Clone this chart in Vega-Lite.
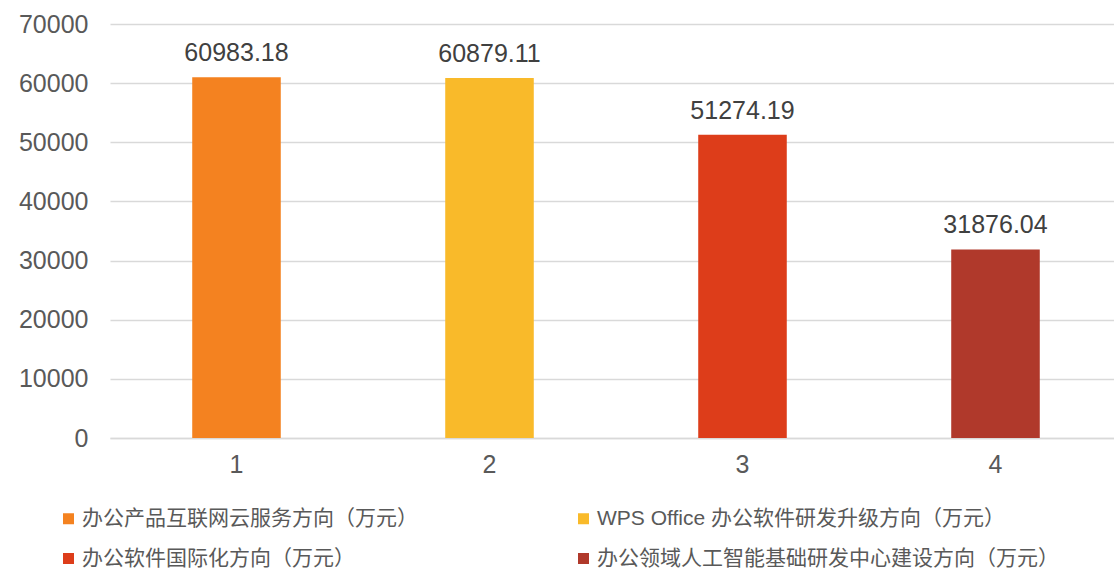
{
  "$schema": "https://vega.github.io/schema/vega-lite/v6.json",
  "width": 1012,
  "height": 414,
  "autosize": {"type": "none"},
  "padding": {"left": 110, "top": 24, "right": 0, "bottom": 133},
  "background": "white",
  "config": {
    "view": {"stroke": null},
    "font": "Liberation Sans, Noto Sans CJK SC"
  },
  "data": {
    "values": [
      {"cat": "1", "series": "办公产品互联网云服务方向（万元）", "value": 60983.18},
      {"cat": "2", "series": "WPS Office 办公软件研发升级方向（万元）", "value": 60879.11},
      {"cat": "3", "series": "办公软件国际化方向（万元）", "value": 51274.19},
      {"cat": "4", "series": "办公领域人工智能基础研发中心建设方向（万元）", "value": 31876.04}
    ]
  },
  "encoding": {
    "x": {
      "field": "cat",
      "type": "nominal",
      "scale": {"paddingInner": 0.65, "paddingOuter": 0.325},
      "axis": {
        "title": null,
        "labelAngle": 0,
        "labelFontSize": 25,
        "labelColor": "#595959",
        "labelPadding": 14,
        "ticks": false,
        "domainColor": "#d9d9d9",
        "domainWidth": 1.5
      }
    },
    "y": {
      "field": "value",
      "type": "quantitative",
      "scale": {"domain": [0, 70000]},
      "axis": {
        "title": null,
        "values": [0, 10000, 20000, 30000, 40000, 50000, 60000, 70000],
        "format": "d",
        "labelFontSize": 25,
        "labelColor": "#595959",
        "labelPadding": 22,
        "ticks": false,
        "domain": false,
        "gridColor": "#d9d9d9",
        "gridWidth": 1.5
      }
    }
  },
  "layer": [
    {
      "mark": {"type": "bar"},
      "encoding": {
        "color": {
          "field": "series",
          "type": "nominal",
          "scale": {
            "domain": [
              "办公产品互联网云服务方向（万元）",
              "WPS Office 办公软件研发升级方向（万元）",
              "办公软件国际化方向（万元）",
              "办公领域人工智能基础研发中心建设方向（万元）"
            ],
            "range": ["#F48220", "#F9BA2A", "#DD3D1A", "#B0392B"]
          },
          "legend": {
            "title": null,
            "orient": "none",
            "legendX": -52,
            "legendY": 484,
            "direction": "horizontal",
            "columns": 2,
            "columnPadding": 155,
            "rowPadding": 18,
            "symbolType": "square",
            "symbolSize": 121,
            "symbolStrokeWidth": 0,
            "labelFontSize": 21,
            "labelColor": "#595959",
            "labelOffset": 3,
            "labelLimit": 700
          }
        }
      }
    },
    {
      "mark": {"type": "text", "baseline": "alphabetic", "dy": -16, "fontSize": 25, "color": "#404040"},
      "encoding": {
        "text": {"field": "value", "type": "quantitative", "format": ".2f"}
      }
    }
  ]
}
